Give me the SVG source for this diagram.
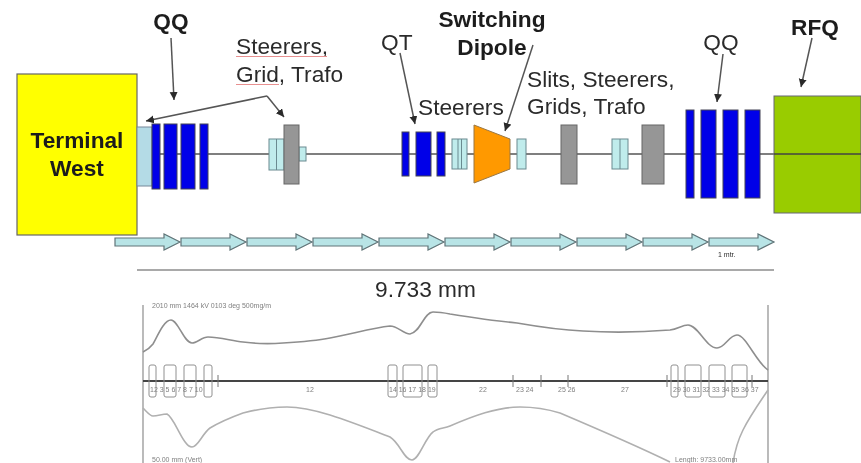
<svg xmlns="http://www.w3.org/2000/svg" width="861" height="463" viewBox="0 0 861 463">
<style>
text{font-family:"Liberation Sans",Arial,sans-serif;fill:#2c2c2c;font-size:22.700px}
.b{font-weight:bold;fill:#1c1c1c}
.blue{fill:#0000e8;stroke:#445;stroke-width:1}
.grey{fill:#969696;stroke:#666;stroke-width:1}
.lb{fill:#c0ecec;stroke:#6a8a90;stroke-width:1}
.ar{fill:#b8e4e6;stroke:#607478;stroke-width:1.200}
.ln{fill:none;stroke:#555;stroke-width:1.500}
.plot{fill:none;stroke-width:1.600}
.box{fill:none;stroke:#909090;stroke-width:1}
.t{font-size:7px;fill:#808080}
</style>
<defs>
<marker id="h" markerUnits="userSpaceOnUse" markerWidth="10" markerHeight="10" refX="8" refY="4" orient="auto"><path d="M0 0L8 4L0 8Z" fill="#2c2c2c"/></marker>
<filter id="soft" filterUnits="userSpaceOnUse" x="0" y="0" width="861" height="463"><feGaussianBlur stdDeviation="0.5"/></filter>
<filter id="softer" filterUnits="userSpaceOnUse" x="0" y="0" width="861" height="463"><feGaussianBlur stdDeviation="0.55"/></filter>
</defs>
<g filter="url(#soft)">
<g id="beamline"><path d="M152 154H861" stroke="#555" stroke-width="1.500"/></g>
<g id="terminal-west"><rect x="17" y="74" width="120" height="161" fill="#ffff00" stroke="#666" stroke-width="1.200"/><rect x="137" y="127" width="15" height="59" fill="#b4dbe6" stroke="#789"/><text class="b" x="77" y="148" text-anchor="middle">Terminal</text><text class="b" x="77" y="176" text-anchor="middle">West</text></g>
<g id="qq-left"><rect class="blue" x="152" y="124" width="8" height="65"/><rect class="blue" x="164" y="124" width="13" height="65"/><rect class="blue" x="181" y="124" width="14" height="65"/><rect class="blue" x="200" y="124" width="8" height="65"/><text class="b" x="171" y="29" text-anchor="middle">QQ</text></g>
<g id="steerers-grid-trafo"><rect class="lb" x="269" y="139" width="15" height="31"/><path d="M276.500 139V170" stroke="#6a8a90"/><rect class="lb" x="299" y="147" width="7" height="14"/><rect class="grey" x="284" y="125" width="15" height="59"/><text x="236" y="54">Steerers,</text><text x="236" y="81.500">Grid, Trafo</text><path d="M236 56.500H327M236 84.500H279" stroke="#e89090" stroke-width="1"/></g>
<g id="qt"><rect class="blue" x="402" y="132" width="7" height="44"/><rect class="blue" x="416" y="132" width="15" height="44"/><rect class="blue" x="437" y="132" width="8" height="44"/><text x="381" y="50">QT</text></g>
<g id="steerers-mid"><rect class="lb" x="452" y="139" width="15" height="30"/><path d="M458 139V169M461.500 139V169" stroke="#6a8a90"/><text x="418" y="115">Steerers</text></g>
<g id="switching-dipole"><path d="M474 125L510 139V169L474 183Z" fill="#ff9900" stroke="#997744"/><rect class="lb" x="517" y="139" width="9" height="30"/><text class="b" x="492" y="27" text-anchor="middle">Switching</text><text class="b" x="492" y="55" text-anchor="middle">Dipole</text></g>
<g id="slits"><rect class="grey" x="561" y="125" width="16" height="59"/><rect class="lb" x="612" y="139" width="16" height="30"/><path d="M620 139V169" stroke="#6a8a90"/><rect class="grey" x="642" y="125" width="22" height="59"/><text x="527" y="87">Slits, Steerers,</text><text x="527" y="114">Grids, Trafo</text></g>
<g id="qq-right"><rect class="blue" x="686" y="110" width="8" height="88"/><rect class="blue" x="701" y="110" width="15" height="88"/><rect class="blue" x="723" y="110" width="15" height="88"/><rect class="blue" x="745" y="110" width="15" height="88"/><text x="721" y="50" text-anchor="middle">QQ</text></g>
<g id="rfq"><rect x="774" y="96" width="87" height="117" fill="#99cc00" stroke="#667"/><path d="M774 154H861" stroke="#444" stroke-width="1.500"/><text class="b" x="815" y="35" text-anchor="middle">RFQ</text></g>
<g id="connectors">
<path class="ln" marker-end="url(#h)" d="M171 38L174 100"/>
<path class="ln" marker-end="url(#h)" d="M267 96L146 121"/>
<path class="ln" marker-end="url(#h)" d="M267 96L284 117"/>
<path class="ln" marker-end="url(#h)" d="M400 53L415 124"/>
<path class="ln" marker-end="url(#h)" d="M533 45L505 131"/>
<path class="ln" marker-end="url(#h)" d="M723 54L717 102"/>
<path class="ln" marker-end="url(#h)" d="M812 38L801 87"/>
</g>
<g id="scale-arrows">
<path class="ar" d="M115 238H164V234L180 242L164 250V246H115Z"/>
<path class="ar" d="M181 238H230V234L246 242L230 250V246H181Z"/>
<path class="ar" d="M247 238H296V234L312 242L296 250V246H247Z"/>
<path class="ar" d="M313 238H362V234L378 242L362 250V246H313Z"/>
<path class="ar" d="M379 238H428V234L444 242L428 250V246H379Z"/>
<path class="ar" d="M445 238H494V234L510 242L494 250V246H445Z"/>
<path class="ar" d="M511 238H560V234L576 242L560 250V246H511Z"/>
<path class="ar" d="M577 238H626V234L642 242L626 250V246H577Z"/>
<path class="ar" d="M643 238H692V234L708 242L692 250V246H643Z"/>
<path class="ar" d="M709 238H758V234L774 242L758 250V246H709Z"/>
<text x="718" y="257" style="font-size:7px">1 mtr.</text>
</g>
<g id="length"><path d="M137 270H774" stroke="#555" stroke-width="1.200"/><text x="425.500" y="297" text-anchor="middle">9.733 mm</text></g>
</g>
<g id="envelope-plot" filter="url(#softer)">
<path class="plot" style="stroke:#aaa" d="M143 305V463M768 305V463"/>
<path d="M143 381H768" stroke="#444" stroke-width="2"/>
<path class="plot" style="stroke:#8e8e8e" d="M143 352C147 350 150 348 153 344C158 335 164 320 171 320C178 320 184 343 192 343C197 343 202 337 208 337C220 337 232 341 243 342C258 344 270 344 283 343C300 342 315 341 330 338C352 334 372 328 390 326C398 326 403 334 410 334C420 333 424 312 433 312C440 312 445 313 450 314C475 318 495 321 517 323C540 327 560 330 583 331C615 333 645 332 670 330C678 329 682 325 688 325C698 325 706 348 717 348C725 348 729 335 737 335C746 335 756 362 768 370"/>
<path class="plot" style="stroke:#b0b0b0" d="M143 408C147 412 150 416 153 416C158 416 162 414 167 414C175 418 183 447 192 447C198 447 202 434 210 428C220 422 232 417 243 413C258 409 272 407 287 407C303 407 317 411 330 415C352 422 372 430 390 437C400 443 404 460 412 460C419 460 425 438 433 432C438 428 444 428.500 450 426C473 416 497 407 520 407C533 407 547 409 560 413C600 430 635 445 670 462M733 463C735 450 738 440 743 430C750 416 760 402 768 390"/>
<g>
<rect class="box" x="149" y="365" width="7" height="32" rx="2"/><rect class="box" x="164" y="365" width="12" height="32" rx="2"/><rect class="box" x="184" y="365" width="12" height="32" rx="2"/><rect class="box" x="204" y="365" width="8" height="32" rx="2"/>
<rect class="box" x="388" y="365" width="9" height="32" rx="2"/><rect class="box" x="403" y="365" width="19" height="32" rx="2"/><rect class="box" x="428" y="365" width="9" height="32" rx="2"/>
<rect class="box" x="671" y="365" width="7" height="32" rx="2"/><rect class="box" x="685" y="365" width="16" height="32" rx="2"/><rect class="box" x="709" y="365" width="16" height="32" rx="2"/><rect class="box" x="732" y="365" width="15" height="32" rx="2"/>
<path d="M218 375V387M513 375V387M541 375V387M568 375V387M667 375V387M752 375V387" stroke="#777" fill="none"/>
</g>
<text class="t" x="150" y="392">12 3  5  6  7  8 7 10</text>
<text class="t" x="306" y="392">12</text>
<text class="t" x="389" y="392">14 16 17 18 19</text>
<text class="t" x="479" y="392">22</text>
<text class="t" x="516" y="392">23 24</text>
<text class="t" x="558" y="392">25 26</text>
<text class="t" x="621" y="392">27</text>
<text class="t" x="673" y="392">29 30 31 32 33 34 35 36 37</text>
<text class="t" x="152" y="308">2010 mm 1464 kV   0103 deg 500mg/m</text>
<text class="t" x="152" y="462">50.00 mm (Vert)</text>
<text class="t" x="675" y="462">Length: 9733.00mm</text>
</g>
</svg>
